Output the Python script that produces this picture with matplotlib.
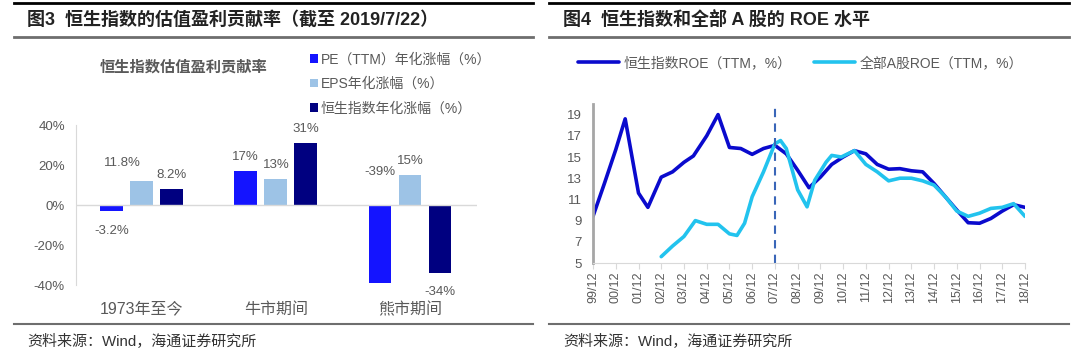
import matplotlib
matplotlib.use("Agg")
import matplotlib.pyplot as plt
import matplotlib.dates as mdates
from matplotlib.lines import Line2D
from matplotlib.ticker import PercentFormatter
import pandas as pd

plt.rcParams["font.family"] = ["Liberation Sans", "Noto Sans CJK SC", "DejaVu Sans"]
plt.rcParams["axes.unicode_minus"] = False

# ---- data: figure 3 (bars) ----
categories = ["1973年至今", "牛市期间", "熊市期间"]
pe_growth = [-3.2, 17, -39]
eps_growth = [11.8, 13, 15]
hsi_growth = [8.2, 31, -34]
bar_labels = {
    "pe": ["-3.2%", "17%", "-39%"],
    "eps": ["11.8%", "13%", "15%"],
    "hsi": ["8.2%", "31%", "-34%"],
}

# ---- data: figure 4 (ROE lines) ----
hsi_dates = ["1999-12", "2000-06", "2000-12", "2001-05", "2001-12", "2002-05",
             "2002-12", "2003-06", "2003-12", "2004-05", "2004-12", "2005-06",
             "2005-12", "2006-06", "2006-12", "2007-06", "2007-12", "2008-06",
             "2008-12", "2009-06", "2009-12", "2010-06", "2010-12", "2011-06",
             "2011-12", "2012-06", "2012-12", "2013-06", "2013-12", "2014-06",
             "2014-12", "2015-06", "2015-12", "2016-06", "2016-12", "2017-06",
             "2017-12", "2018-06", "2018-12"]
hsi_roe = [9.4, 12.5, 15.7, 18.6, 11.6, 10.25,
           13.1, 13.6, 14.5, 15.1, 17.0, 19.0,
           15.9, 15.8, 15.25, 15.8, 16.1, 15.3,
           13.75, 12.1, 13.1, 14.3, 15.0, 15.6,
           15.3, 14.3, 13.85, 13.9, 13.7, 13.6,
           12.5, 11.25, 10.0, 8.8, 8.75, 9.2,
           9.9, 10.5, 10.25]

a_dates = ["2002-12", "2003-06", "2003-12", "2004-06", "2004-12", "2005-06",
           "2005-12", "2006-04", "2006-08", "2006-12", "2007-06", "2007-12",
           "2008-03", "2008-06", "2008-12", "2009-05", "2009-09", "2010-03",
           "2010-06", "2010-11", "2011-06", "2011-12", "2012-06", "2012-12",
           "2013-06", "2013-12", "2014-06", "2014-12", "2015-06", "2015-12",
           "2016-06", "2016-12", "2017-06", "2017-12", "2018-06", "2018-12"]
a_roe = [5.6, 6.6, 7.5, 9.0, 8.65, 8.65,
         7.75, 7.6, 8.75, 11.25, 13.6, 16.25,
         16.55, 15.8, 11.9, 10.3, 12.8, 14.5,
         15.15, 15.0, 15.6, 14.3, 13.6, 12.75,
         13.0, 13.0, 12.75, 12.35, 11.25, 9.9,
         9.4, 9.7, 10.15, 10.25, 10.6, 9.4]
marker_date = "2007-12"
tick_years = list(range(1999, 2019))

GRAY = "#595959"
W, H = 1080, 364

fig = plt.figure(figsize=(W / 100, H / 100), dpi=100)


def px(x, y):
    return x / W, 1 - y / H


def hline(x0, x1, y, color, lw):
    a, b = px(x0, y)
    c, _ = px(x1, y)
    fig.add_artist(Line2D([a, c], [b, b], transform=fig.transFigure, color=color, lw=lw))


# frame lines and captions for both panels
for x0, x1 in [(14, 533), (549, 1069)]:
    hline(x0, x1, 3, "black", 2)
    hline(x0, x1, 37, "#6e6e6e", 2)
    hline(x0, x1, 324, "#6e6e6e", 1.5)

fig.text(*px(27, 20), "图3  恒生指数的估值盈利贡献率（截至 2019/7/22）", fontsize=13,
         fontweight="bold", va="center", color="#222222")
fig.text(*px(563, 20), "图4  恒生指数和全部 A 股的 ROE 水平", fontsize=13,
         fontweight="bold", va="center", color="#222222")
fig.text(*px(27, 342), "资料来源：Wind，海通证券研究所", fontsize=10.8, va="center", color="#333333")
fig.text(*px(563, 342), "资料来源：Wind，海通证券研究所", fontsize=10.8, va="center", color="#333333")

# ---------------- left: bar chart ----------------
ax1 = fig.add_axes([76 / W, 1 - 285 / H, 401 / W, 160 / H])
xs = range(len(categories))
width = 0.17
step = 0.224
series = [("pe", pe_growth, "#1414FF", "PE（TTM）年化涨幅（%）"),
          ("eps", eps_growth, "#9DC3E6", "EPS年化涨幅（%）"),
          ("hsi", hsi_growth, "#000080", "恒生指数年化涨幅（%）")]
# label offsets in points (dx, dy) for the few labels that sit off the default spot
special = {("eps", 0): (-14, 13), ("pe", 2): (0, None)}
handles = []
for k, (key, vals, color, label) in enumerate(series):
    pos = [x + (k - 1) * step for x in xs]
    bars = ax1.bar(pos, vals, width=width, color=color, label=label)
    handles.append(bars)
    for i, (p, v) in enumerate(zip(pos, vals)):
        dx, dy = 0, (10 if v >= 0 else -14)
        y = v
        if (key, i) in special:
            dx, sdy = special[(key, i)]
            if sdy is None:
                y, dy = 0, 24
            else:
                dy = sdy
        ax1.annotate(bar_labels[key][i], (p, y), xytext=(dx, dy), textcoords="offset points",
                     ha="center", va="center", fontsize=9.5, color=GRAY)

ax1.set_xlim(-0.49, 2.5)
ax1.set_ylim(-40, 40)
ax1.set_yticks([-40, -20, 0, 20, 40])
ax1.yaxis.set_major_formatter(PercentFormatter(decimals=0))
ax1.axhline(0, color="#D9D9D9", lw=1)
ax1.set_xticks(list(xs))
ax1.set_xticklabels(categories, fontsize=11.5, color=GRAY)
ax1.tick_params(axis="x", length=0, pad=12)
ax1.tick_params(axis="y", length=0, labelsize=9.5, labelcolor=GRAY, pad=8)
for s in ["top", "right", "bottom"]:
    ax1.spines[s].set_visible(False)
ax1.spines["left"].set_color("#D9D9D9")

fig.text(*px(184, 67), "恒生指数估值盈利贡献率", fontsize=11, fontweight="bold",
         ha="center", va="center", color=GRAY)
fig.legend(handles=handles, loc="upper left", bbox_to_anchor=px(304, 47), frameon=False,
           fontsize=10, labelcolor=GRAY, handlelength=0.6, handleheight=0.6,
           handletextpad=0.2, labelspacing=0.75, borderaxespad=0)

# ---------------- right: ROE lines ----------------
ax2 = fig.add_axes([593 / W, 1 - 263 / H, 432 / W, 159 / H])
hd = pd.to_datetime(hsi_dates)
ad = pd.to_datetime(a_dates)
ax2.plot(hd, hsi_roe, color="#0A0ACD", lw=2.6, solid_joinstyle="round",
         solid_capstyle="round", label="恒生指数ROE（TTM，%）")
ax2.plot(ad, a_roe, color="#22C3EE", lw=2.6, solid_joinstyle="round",
         solid_capstyle="round", label="全部A股ROE（TTM，%）")
ax2.axvline(pd.to_datetime(marker_date), color="#3A66B8", lw=1.5, ls=(0, (4, 3)))

ticks = pd.to_datetime([f"{y}-12" for y in tick_years])
ax2.set_xlim(ticks[0], ticks[-1])
ax2.set_xticks(ticks)
ax2.xaxis.set_major_formatter(mdates.DateFormatter("%y/%m"))
ax2.set_ylim(5, 20)
ax2.set_yticks(range(5, 20, 2))
ax2.tick_params(axis="x", rotation=90, labelsize=9, labelcolor=GRAY, length=4,
                color="#D9D9D9", pad=2)
ax2.tick_params(axis="y", length=0, labelsize=9.5, labelcolor=GRAY, pad=8)
for s in ["top", "right"]:
    ax2.spines[s].set_visible(False)
ax2.spines["bottom"].set_color("#D9D9D9")
ax2.spines["left"].set_color("#A6A6A6")
ax2.spines["left"].set_linewidth(2)

fig.legend(handles=ax2.get_lines()[:2], loc="center left", bbox_to_anchor=px(572, 63),
           ncol=2, frameon=False, fontsize=10, labelcolor=GRAY, handlelength=3.0,
           handletextpad=0.3, columnspacing=1.6, borderaxespad=0)

fig.savefig("out.png", dpi=100)
